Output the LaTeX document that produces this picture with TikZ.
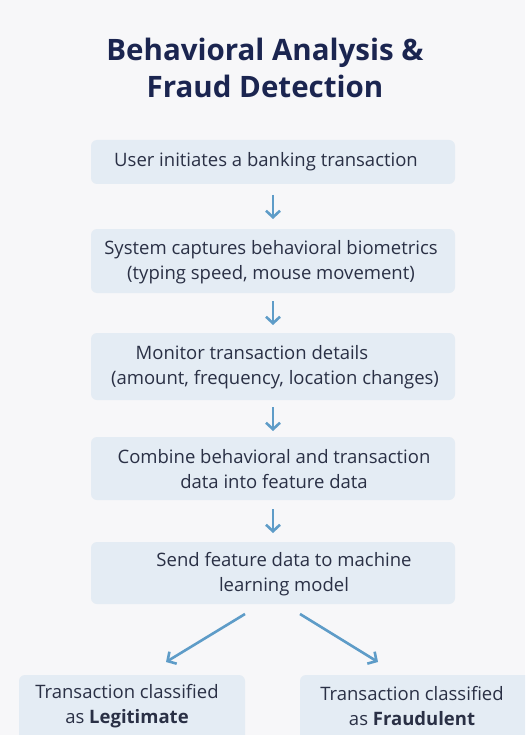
\documentclass[tikz,border=0pt]{standalone}
\usepackage{fontspec}
\setmainfont{Open Sans}
\usetikzlibrary{arrows.meta}
\definecolor{bg}{HTML}{F7F7F9}
\definecolor{boxfill}{HTML}{E4ECF4}
\definecolor{navy}{HTML}{1B2550}
\definecolor{txt}{HTML}{2A3045}
\definecolor{arr}{HTML}{5E9CC8}
\tikzset{
  stepbox/.style={fill=boxfill, rounded corners=6pt, inner sep=0pt, text=txt,
    font=\fontsize{18.5}{25}\selectfont, align=center},
  label/.style={text=txt, font=\fontsize{18.5}{25}\selectfont, align=center, inner sep=0pt},
  flow/.style={draw=arr, line width=2.6pt, -{Straight Barb[length=6.5pt,width=14pt,line width=2.6pt]}},
}
\begin{document}
\begin{tikzpicture}[x=1pt,y=-1pt]
\clip (0,0) rectangle (525,735);
\fill[bg] (0,0) rectangle (525,735);
\node[text=navy, font=\fontsize{29.5}{37}\selectfont\bfseries, align=center] (title) at (265,68)
  {Behavioral Analysis \&\\Fraud Detection};
% boxes
\node[stepbox, minimum width=364pt, minimum height=44pt] (b1) at (273,162) {};
\node[stepbox, minimum width=364pt, minimum height=64pt] (b2) at (273,261) {};
\node[stepbox, minimum width=364pt, minimum height=67pt] (b3) at (273,366.5) {};
\node[stepbox, minimum width=364pt, minimum height=63pt] (b4) at (273,468.5) {};
\node[stepbox, minimum width=364pt, minimum height=62pt] (b5) at (273,573) {};
\node[stepbox, minimum width=226pt, minimum height=80pt] (l) at (132,715) {};
\node[stepbox, minimum width=240pt, minimum height=80pt] (r) at (420,715) {};
% texts
\node[label] (t1) at (266,162) {User initiates a banking transaction};
\node[label] (t2) at (271,262) {System captures behavioral biometrics\\(typing speed, mouse movement)};
\node[label] (t3) at (275,367) {Monitor transaction details\hspace*{46pt}\\(amount, frequency, location changes)};
\node[label] (t4) at (274,469) {Combine behavioral and transaction\\data into feature data};
\node[label] (t5) at (284,574) {Send feature data to machine\\learning model};
\node[label] (lt) at (127,706.5) {Transaction classified\\as \textbf{Legitimate}};
\node[label] (rt) at (412,706.5) {Transaction classified\\as \textbf{Fraudulent}};
% arrows
\coordinate (a1s) at (273,195); \coordinate (a1e) at (273,219);
\coordinate (a2s) at (273,301); \coordinate (a2e) at (273,325);
\coordinate (a3s) at (273,407); \coordinate (a3e) at (273,431);
\coordinate (a4s) at (273,509); \coordinate (a4e) at (273,533);
\draw[flow] (a1s) -- (a1e);
\draw[flow] (a2s) -- (a2e);
\draw[flow] (a3s) -- (a3e);
\draw[flow] (a4s) -- (a4e);
\coordinate (dl1) at (245,614); \coordinate (dl2) at (166,662);
\coordinate (dr1) at (300,614); \coordinate (dr2) at (378,662);
\draw[flow] (dl1) -- (dl2);
\draw[flow] (dr1) -- (dr2);
\end{tikzpicture}
\end{document}
